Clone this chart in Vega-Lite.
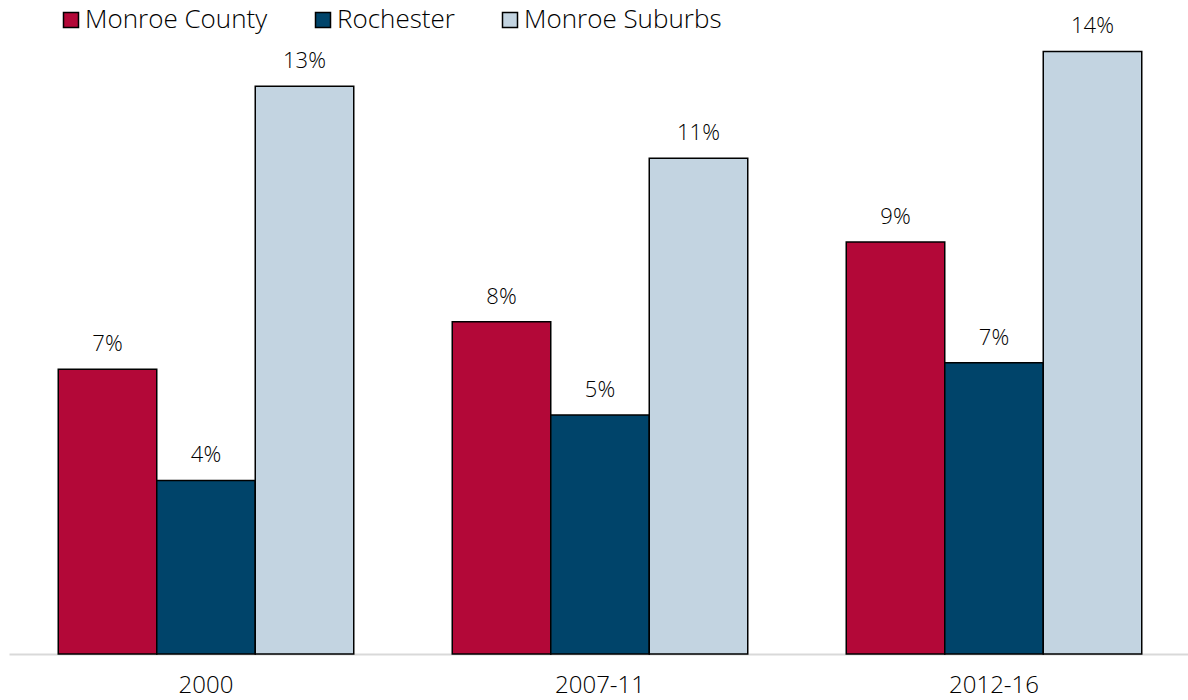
{
  "$schema": "https://vega.github.io/schema/vega-lite/v6.json",
  "width": 1182,
  "height": 654,
  "autosize": {"type": "none"},
  "padding": {"left": 9, "top": 0, "right": 0, "bottom": 46},
  "background": "white",
  "config": {"view": {"stroke": null}, "font": "Open Sans"},
  "data": {
    "values": [
      {"period": "2000", "series": "Monroe County", "value": 0.0653},
      {"period": "2000", "series": "Rochester", "value": 0.0398},
      {"period": "2000", "series": "Monroe Suburbs", "value": 0.1302},
      {"period": "2007-11", "series": "Monroe County", "value": 0.0762},
      {"period": "2007-11", "series": "Rochester", "value": 0.0548},
      {"period": "2007-11", "series": "Monroe Suburbs", "value": 0.1137},
      {"period": "2012-16", "series": "Monroe County", "value": 0.0945},
      {"period": "2012-16", "series": "Rochester", "value": 0.0668},
      {"period": "2012-16", "series": "Monroe Suburbs", "value": 0.1382}
    ]
  },
  "encoding": {
    "x": {
      "field": "period", "type": "nominal", "title": null,
      "sort": ["2000", "2007-11", "2012-16"],
      "scale": {"paddingInner": 0.25, "paddingOuter": 0.125},
      "axis": {"labelAngle": 0, "labelFontSize": 24, "labelFontWeight": 300, "labelColor": "#000000", "ticks": false, "domainColor": "#d9d9d9", "domainWidth": 2, "labelPadding": 19}
    },
    "xOffset": {"field": "series", "type": "nominal", "sort": ["Monroe County", "Rochester", "Monroe Suburbs"], "scale": {"paddingInner": 0, "paddingOuter": 0}},
    "y": {"field": "value", "type": "quantitative", "scale": {"domain": [0, 0.15]}, "axis": null}
  },
  "layer": [
    {
      "mark": {"type": "bar", "stroke": "#000000", "strokeWidth": 1.5},
      "encoding": {
        "color": {
          "field": "series", "type": "nominal", "title": null,
          "scale": {"domain": ["Monroe County", "Rochester", "Monroe Suburbs"], "range": ["#B30838", "#00446A", "#C3D4E1"]},
          "legend": {
            "orient": "none", "legendX": 49, "legendY": 7, "direction": "horizontal",
            "symbolType": "square", "symbolSize": 225, "symbolStrokeColor": "#000000", "symbolStrokeWidth": 1.5,
            "labelFontSize": 26, "labelFontWeight": 300, "labelColor": "#000000", "labelOffset": 1, "columnPadding": 42, "labelLimit": 300
          }
        }
      }
    },
    {
      "mark": {"type": "text", "baseline": "bottom", "dy": -13, "fontSize": 22, "fontWeight": 300, "color": "#000000"},
      "encoding": {"text": {"field": "value", "type": "quantitative", "format": ".0%"}}
    }
  ]
}
